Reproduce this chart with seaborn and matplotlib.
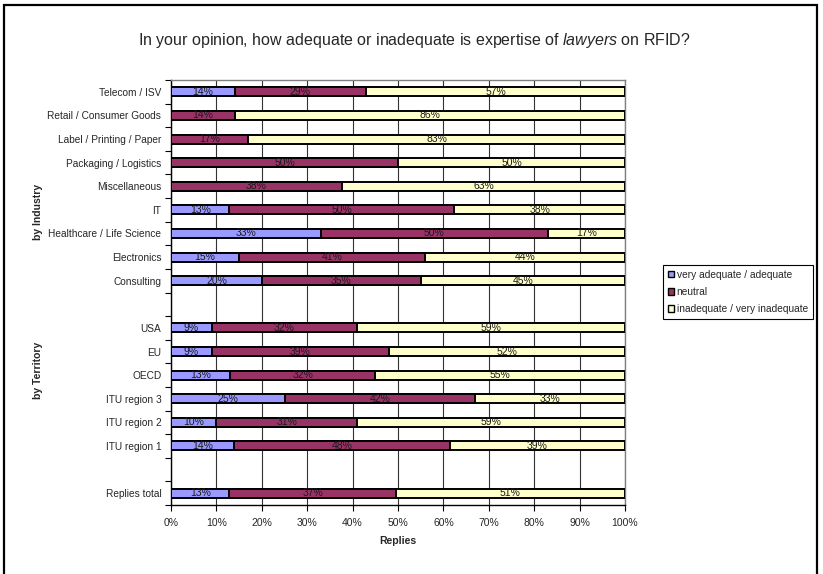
import numpy as np
import pandas as pd
import matplotlib.pyplot as plt
import seaborn as sns
from matplotlib.patches import Patch, Rectangle

# categories, top to bottom
industry = ["Telecom / ISV", "Retail / Consumer Goods", "Label / Printing / Paper",
            "Packaging / Logistics", "Miscellaneous", "IT", "Healthcare / Life Science",
            "Electronics", "Consulting"]
territory = ["USA", "EU", "OECD", "ITU region 3", "ITU region 2", "ITU region 1"]
total = ["Replies total"]

# percentages per category (same order as above)
adequate = [14, 0, 0, 0, 0, 13, 33, 15, 20, 9, 9, 13, 25, 10, 14, 13]
neutral = [29, 14, 17, 50, 38, 50, 50, 41, 35, 32, 39, 32, 42, 31, 48, 37]
inadequate = [57, 86, 83, 50, 63, 38, 17, 44, 45, 59, 52, 55, 33, 59, 39, 51]

series_names = ["very adequate / adequate", "neutral", "inadequate / very inadequate"]
colors = ["#9999FF", "#993366", "#FFFFCC"]

cats = industry + territory + total
order = industry + ["gap1"] + territory + ["gap2"] + total

df = pd.DataFrame({"cat": cats, "a": adequate, "n": neutral, "i": inadequate})
tot = df[["a", "n", "i"]].sum(axis=1)
# 100% stacked: normalise rounded values
df["a_pct"] = df["a"] / tot * 100
df["n_pct"] = df["n"] / tot * 100
df["i_pct"] = df["i"] / tot * 100
df["c1"] = df["a_pct"]
df["c2"] = df["a_pct"] + df["n_pct"]
df["c3"] = df["c2"] + df["i_pct"]

sns.set_style("white")
plt.rcParams["font.family"] = ["Liberation Sans", "DejaVu Sans"]
plt.rcParams["mathtext.fontset"] = "custom"
plt.rcParams["mathtext.rm"] = "Liberation Sans"
plt.rcParams["mathtext.it"] = "Liberation Sans:italic"

fig = plt.figure(figsize=(8.23, 5.74), dpi=100)
ax = fig.add_axes([171 / 823, 1 - 505 / 574, (625 - 171) / 823, (505 - 80) / 574])

bw = 0.38
for col, c in zip(["c3", "c2", "c1"], colors[::-1]):
    sns.barplot(data=df, x=col, y="cat", order=order, orient="h", color=c,
                edgecolor="black", linewidth=1.4, width=bw, errorbar=None,
                saturation=1, ax=ax, zorder=3)

# value labels
ypos = {name: k for k, name in enumerate(order)}
for _, r in df.iterrows():
    y = ypos[r["cat"]]
    starts = [0, r["c1"], r["c2"]]
    for val, w, s in zip([r["a"], r["n"], r["i"]], [r["a_pct"], r["n_pct"], r["i_pct"]], starts):
        if val > 0:
            ax.text(s + w / 2, y, f"{val}%", ha="center", va="center",
                    fontsize=7.5, color="#1a1a1a", zorder=5)

ax.set_xlim(0, 100)
ax.set_ylim(len(order) - 0.5, -0.5)
ax.set_xticks(np.arange(0, 101, 10))
ax.set_xticklabels([f"{v}%" for v in range(0, 101, 10)], fontsize=7.5)
ax.set_yticks(range(len(order)))
ax.set_yticklabels(["" if o.startswith("gap") else o for o in order], fontsize=7.3)
ax.set_yticks(np.arange(-0.5, len(order), 1), minor=True)
ax.tick_params(axis="y", which="major", length=0, pad=7)
ax.tick_params(axis="y", which="minor", length=4, width=0.8, direction="out", color="black")
ax.tick_params(axis="x", which="major", length=4, width=0.8, direction="out", color="black", pad=5)
ax.xaxis.set_ticks_position("bottom")
ax.yaxis.set_ticks_position("left")
ax.set_ylabel("")
ax.set_xlabel("Replies", fontsize=7.5, fontweight="bold", labelpad=6)

ax.grid(axis="x", color="#333333", linewidth=0.8, zorder=0)
ax.set_axisbelow(True)
for s in ["top", "right"]:
    ax.spines[s].set_color("#808080")
    ax.spines[s].set_linewidth(1.0)
for s in ["left", "bottom"]:
    ax.spines[s].set_color("black")
    ax.spines[s].set_linewidth(1.0)

# group labels
fig.text(38 / 823, 1 - 212 / 574, "by Industry", rotation=90, ha="center", va="center",
         fontsize=7.5, fontweight="bold")
fig.text(38 / 823, 1 - 370 / 574, "by Territory", rotation=90, ha="center", va="center",
         fontsize=7.5, fontweight="bold")

# title
fig.text(138 / 823, 1 - 41 / 574,
         r"In your opinion, how adequate or inadequate is expertise of $\it{lawyers}$ on RFID?",
         ha="left", va="center", fontsize=11.5)

# legend
handles = [Patch(facecolor=c, edgecolor="black", linewidth=1.0) for c in colors]
fig.legend(handles, series_names, loc="upper left",
           bbox_to_anchor=(663 / 823, 1 - 265 / 574), fontsize=7.3,
           frameon=True, fancybox=False, edgecolor="black", framealpha=1,
           handlelength=0.6, handleheight=0.6, handletextpad=0.3,
           labelspacing=0.72, borderpad=0.45, borderaxespad=0)
fig.legends[0].get_frame().set_linewidth(0.8)

# outer chart frame
fig.add_artist(Rectangle((3.5 / 823, -0.02), (817 - 3.5) / 823, 1.02 - 5 / 574,
                         transform=fig.transFigure, fill=False, edgecolor="black",
                         linewidth=1.6))

fig.savefig("out.png", dpi=100)
